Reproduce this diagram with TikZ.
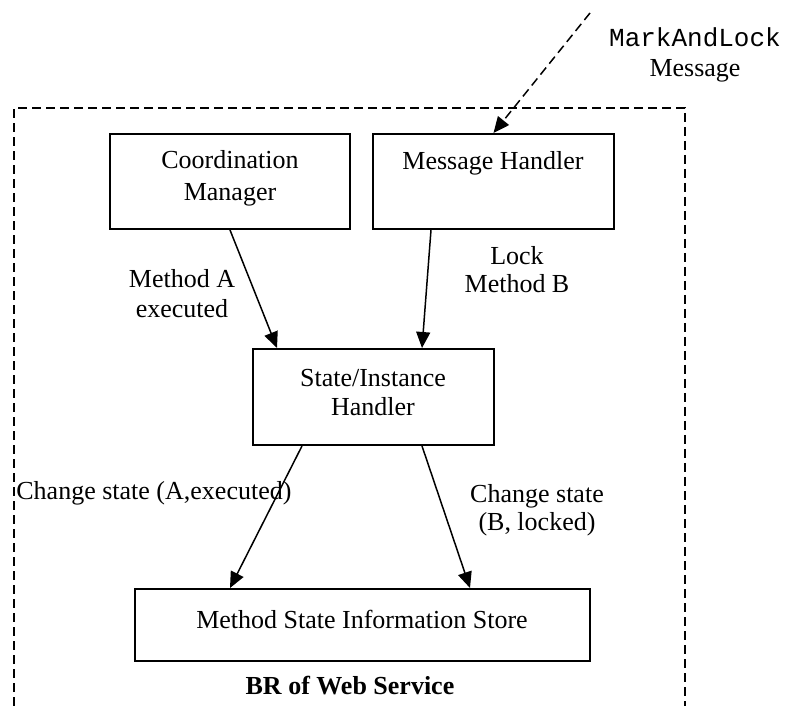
\documentclass[tikz,border=0pt]{standalone}
\usepackage{fontspec}
\setmainfont{Liberation Serif}
\setmonofont{Liberation Mono}
\usetikzlibrary{arrows.meta,calc}

\begin{document}
\begin{tikzpicture}[x=0.5pt,y=-0.5pt,
  box/.style={draw,line width=1pt,inner sep=0pt},
  txt/.style={inner sep=0pt,align=center,font=\fontsize{13}{15}\selectfont},
  flow/.style={line width=0.75pt,-{Triangle[length=8pt,width=7pt]}},
  msg/.style={line width=0.75pt,dash pattern=on 4.5pt off 2.5pt,-{Triangle[length=8pt,width=7pt]}},
  frame/.style={line width=0.75pt,dash pattern=on 4.5pt off 2.5pt}]
\useasboundingbox (0,0) rectangle (789,706);

% service boundary (open at the bottom edge)
\draw[frame] (14,706) -- (14,108) -- (685,108) -- (685,706);

% components
\node[box,minimum width=120pt,minimum height=47.5pt] (cm) at (230,181.5) {};
\node[box,minimum width=120.5pt,minimum height=47.5pt] (mh) at (493.5,181.5) {};
\node[box,minimum width=120.5pt,minimum height=48pt] (sih) at (373.5,397) {};
\node[box,minimum width=227.5pt,minimum height=36pt] (msis) at (362.5,625) {};

\node[txt,font=\fontsize{13}{16}\selectfont] (cmt) at (230,178) {Coordination\\Manager};
\node[txt] (mht) at (493,163) {Message Handler};
\node[txt,font=\fontsize{13}{14.5}\selectfont] (siht) at (373,393) {State/Instance\\Handler};
\node[txt] (msist) at (362,619) {Method State Information Store};

% incoming message
\coordinate (src) at (590,13);
\draw[msg] (src) -- (mh.north);
\node[txt] (mlt) at (695,55) {{\ttfamily MarkAndLock}\\Message};

% internal flows
\draw[flow] (cm.south) -- ($(sih.north)+(-96.5,0)$);
\draw[flow] ($(mh.south)+(-62.5,0)$) -- ($(sih.north)+(48.5,0)$);
\draw[flow] ($(sih.south)+(-71.5,0)$) -- ($(msis.north)+(-132.5,0)$);
\draw[flow] ($(sih.south)+(48.5,0)$) -- ($(msis.north)+(107.5,0)$);

% flow labels
\node[txt] (la) at (182,294) {Method A\\executed};
\node[txt,font=\fontsize{13}{14}\selectfont] (lb) at (517,270) {Lock\\Method B};
\node[txt,anchor=west] (lc) at (16,493) {Change state (A,executed)};
\node[txt,font=\fontsize{13}{14}\selectfont] (ld) at (537,510) {Change state\\(B, locked)};

\node[txt,font=\fontsize{13}{15}\selectfont\bfseries] (title) at (350,686) {BR of Web Service};
\end{tikzpicture}
\end{document}
